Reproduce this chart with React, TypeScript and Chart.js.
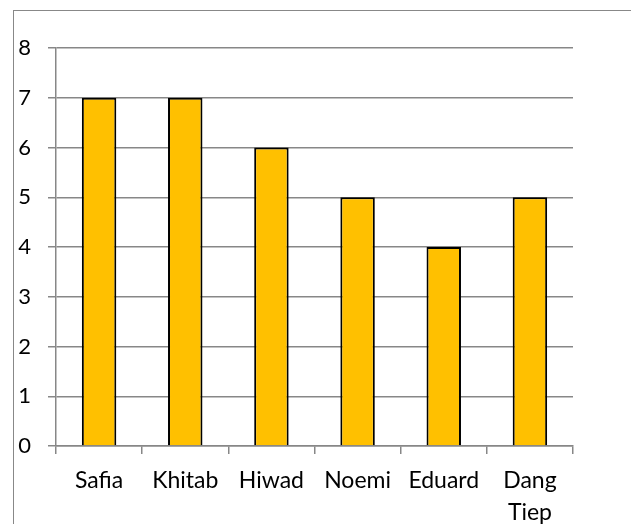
import React, { useEffect, useRef } from "react";
import { Chart, registerables } from "chart.js";

Chart.register(...registerables);

const categories: (string | string[])[] = ["Safia", "Khitab", "Hiwad", "Noemi", "Eduard", ["Dang", "Tiep"]];
const values: number[] = [7, 7, 6, 5, 4, 5];
const yMin = 0;
const yMax = 8;
const yStep = 1;

const FONT = "Lato, 'Open Sans', sans-serif";
const GRID = "#878787";

export default function App() {
  const ref = useRef<HTMLCanvasElement | null>(null);
  useEffect(() => {
    if (!ref.current) return;
    const chart = new Chart(ref.current, {
      type: "bar",
      data: {
        labels: categories,
        datasets: [
          {
            data: values,
            backgroundColor: "#FFC000",
            borderColor: "#000000",
            borderWidth: 2,
            borderSkipped: "bottom",
            categoryPercentage: 1,
            barPercentage: 0.4,
          },
        ],
      },
      options: {
        animation: false,
        responsive: false,
        maintainAspectRatio: false,
        layout: { padding: { left: 0, top: 48, right: 58, bottom: 0 } },
        plugins: { legend: { display: false }, tooltip: { enabled: false }, title: { display: false } },
        scales: {
          x: {
            grid: { display: true, drawOnChartArea: false, drawTicks: true, tickLength: 8, color: GRID, lineWidth: 1.5, offset: true },
            border: { display: true, color: GRID, width: 1.5 },
            ticks: { color: "#000", font: { family: FONT, size: 23, lineHeight: 32 / 23 }, padding: 10.5, maxRotation: 0, autoSkip: false },
            afterFit: (s: any) => { s.height = 78; },
          },
          y: {
            min: yMin,
            max: yMax,
            grid: { color: GRID, lineWidth: 1.5, drawTicks: true, tickLength: 8 },
            border: { display: true, color: GRID, width: 1.5 },
            ticks: { stepSize: yStep, color: "#000", font: { family: FONT, size: 22 }, padding: 17 },
            afterFit: (s: any) => { s.width = 56; },
          },
        },
      },
    });
    return () => chart.destroy();
  }, []);
  return (
    <div style={{ position: "fixed", left: 0, top: 0, width: 631, height: 524, background: "#fff", overflow: "hidden" }}>
      <div style={{ position: "absolute", left: 12.5, top: 9.5, width: 700, height: 600, borderLeft: "1.5px solid #888", borderTop: "1.5px solid #888" }} />
      <canvas ref={ref} width={631} height={524} style={{ position: "absolute", left: 0, top: 0 }} />
    </div>
  );
}
